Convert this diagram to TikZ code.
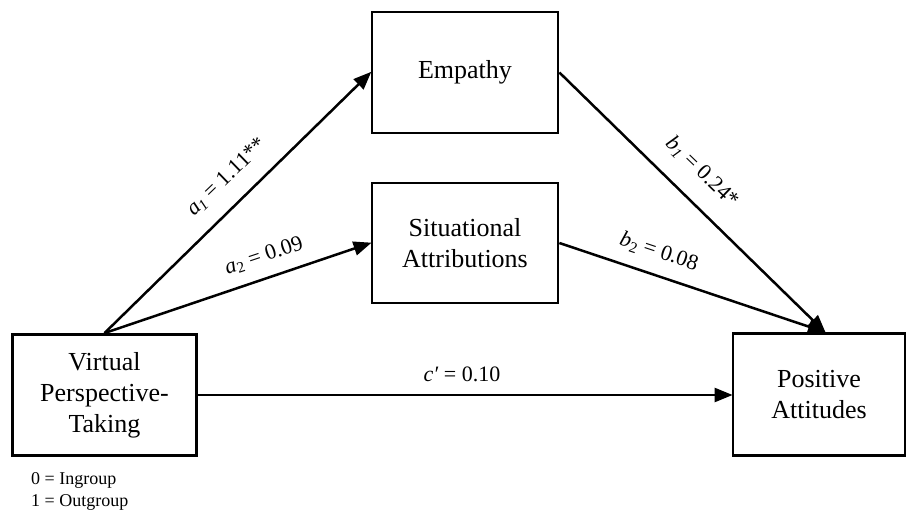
\documentclass[tikz,border=0pt]{standalone}
\usepackage{fontspec}
\setmainfont{Liberation Serif}
\usetikzlibrary{arrows.meta}
\tikzset{
  box/.style={draw, line width=2.8pt, align=center, inner sep=0pt,
    font=\fontsize{26}{31}\selectfont},
  arr/.style={line width=2.5pt, -{Triangle[length=18pt,width=14pt]}, shorten >=-1pt},
  lab/.style={font=\fontsize{22}{26}\selectfont, inner sep=0pt},
}
\begin{document}
\begin{tikzpicture}[x=1pt,y=-1pt]
\useasboundingbox (0,0) rectangle (908,510);
\node[box, minimum width=184pt, minimum height=121pt] (vpt) at (104.5,395) {Virtual\\Perspective-\\Taking};
\node[box, minimum width=186pt, minimum height=121pt] (emp) at (465,72.5) {Empathy};
\node[box, minimum width=186pt, minimum height=120pt] (sit) at (465,243) {Situational\\Attributions};
\node[box, minimum width=172pt, minimum height=122pt] (pa) at (819,394.5) {Positive\\Attitudes};
\coordinate (pin) at ([xshift=6pt]pa.north);
\draw[arr] (vpt.north) -- (emp.west);
\draw[arr] (vpt.north) -- (sit.west);
\draw[arr] (emp.east) -- (pin);
\draw[arr] (sit.east) -- (pin);
\draw[arr] (vpt.east) -- (vpt.east -| pa.west);
\node[lab, rotate=44] (la1) at (227,177) {\textit{a}\textsubscript{\textit{1}} = 1.11**};
\node[lab, rotate=18.4] (la2) at (264,256) {\textit{a}\textsubscript{2} = 0.09};
\node[lab, rotate=-44] (lb1) at (702,172) {\textit{b}\textsubscript{\textit{1}} = 0.24*};
\node[lab, rotate=-18.4] (lb2) at (659,252) {\textit{b}\textsubscript{2} = 0.08};
\node[lab] (lc) at (462,374) {\textit{c′} = 0.10};
\node[font=\fontsize{18}{22}\selectfont, align=left, anchor=west, inner sep=0pt] (leg) at (31,491) {0 = Ingroup\\1 = Outgroup};
\end{tikzpicture}
\end{document}
